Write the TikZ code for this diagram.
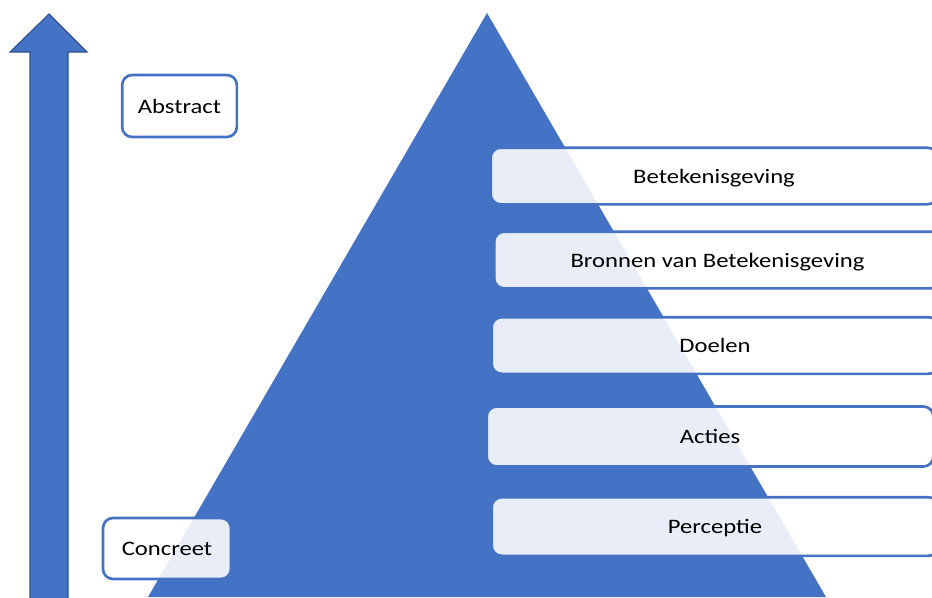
\documentclass[tikz,border=0pt]{standalone}
\usepackage{fontspec}
\setmainfont{Carlito}[FakeStretch=1.2]
\usetikzlibrary{positioning}
\definecolor{pblue}{HTML}{4472C4}
\definecolor{pdark}{HTML}{2F528F}

\begin{document}
\begin{tikzpicture}[x=0.75pt,y=-0.75pt,
        every node/.style={font=\fontsize{15.4}{18}\selectfont},
        label box/.style={draw=pblue,line width=2pt,rounded corners=7.5pt,fill=white,fill opacity=0.88,text opacity=1,inner sep=0pt,text height=13pt,text depth=2pt},
        level/.style={label box,minimum width=335pt,minimum height=42.5pt}]
        \useasboundingbox (0,0) rectangle (932,597);
        \clip (0,0) rectangle (932,597);
        \fill[pblue] (487,13) -- (148,597) -- (826,597) -- cycle;
        \draw[pdark,fill=pblue,line width=0.8pt] (30,605) -- (30,52) -- (10,52) -- (49,14) -- (87,52) -- (68,52) -- (68,605);
        \node[label box, minimum width=86pt, minimum height=46.5pt] (abs) at (179.5,106) {Abstract};
        \node[label box, minimum width=96pt, minimum height=45.75pt] (con) at (167,548.5) {Concreet};
        \node[level] (l_5) at (714,176) {Betekenisgeving};
        \node[level] (l_4) at (717.5,260) {Bronnen van Betekenisgeving};
        \node[level] (l_3) at (715,345.5) {Doelen};
        \node[level, minimum height=45pt] (l_2) at (710,436.5) {Acties};
        \node[level, minimum height=44pt] (l_1) at (715,526.5) {Perceptie};
    \end{tikzpicture}
\end{document}
